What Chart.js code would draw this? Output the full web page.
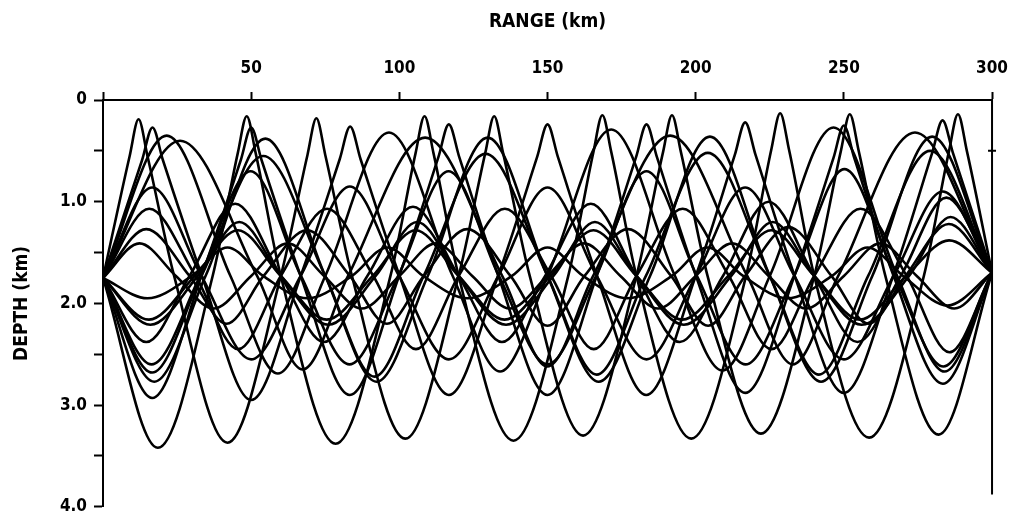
<!DOCTYPE html>
<html>
<head>
<meta charset="utf-8">
<script src="https://cdn.jsdelivr.net/npm/chart.js@4.4.1/dist/chart.umd.min.js"></script>
<style>
  html, body { margin: 0; padding: 0; background: #ffffff; }
  #wrap { width: 1021px; height: 524px; }
</style>
</head>
<body>
<div id="wrap"><canvas id="c" width="1021" height="524"></canvas></div>
<script>
// Ray paths: [range (km), depth (km)] at source-depth crossings,
// turning points, and (for the sharp near-surface tops) the flanks of each top.
const ray01 = [[0,1.75],[9,0.55],[12,0.19],[15,0.55],[24,1.73],[42,3.37],[60,1.73],[69,0.54],[72,0.18],[75,0.54],[84,1.73],[102,3.33],[120,1.73],[129,0.52],[132,0.16],[135,0.52],[144,1.73],[162,3.3],[180,1.73],[189,0.51],[192,0.15],[195,0.51],[204,1.73],[222,3.28],[240,1.73],[249,0.5],[252,0.14],[255,0.5],[264,1.73],[282,3.29],[300,1.70]];
const ray02 = [[0,1.75],[18.5,3.42],[37,1.73],[45.5,0.52],[48.5,0.16],[51.5,0.52],[60,1.73],[78.5,3.38],[97,1.73],[105.5,0.52],[108.5,0.16],[111.5,0.52],[120,1.73],[138.5,3.35],[157,1.73],[165.5,0.51],[168.5,0.15],[171.5,0.51],[180,1.73],[198.5,3.33],[217,1.73],[225.5,0.49],[228.5,0.13],[231.5,0.49],[240,1.73],[258.5,3.32],[277,1.73],[285.5,0.5],[288.5,0.14],[291.5,0.5],[300,1.70]];
const ray03 = [[0,1.75],[13.2,0.59],[16.7,0.27],[20.2,0.59],[33.4,1.73],[50,2.95],[66.7,1.73],[79.9,0.58],[83.4,0.26],[86.9,0.58],[100.1,1.73],[116.7,2.9],[133.3,1.73],[146.5,0.56],[150,0.24],[153.5,0.56],[166.7,1.73],[183.3,2.9],[200,1.73],[213.2,0.54],[216.7,0.22],[220.2,0.54],[233.4,1.73],[250,2.88],[266.6,1.73],[279.8,0.52],[283.3,0.2],[286.8,0.52],[300,1.70]];
const ray04 = [[0,1.75],[16.6,2.93],[33.2,1.73],[46.5,0.59],[50,0.27],[53.5,0.59],[66.7,1.73],[83.3,2.9],[99.9,1.73],[113.2,0.56],[116.7,0.24],[120.2,0.56],[133.4,1.73],[150,2.9],[166.6,1.73],[179.9,0.56],[183.4,0.24],[186.9,0.56],[200.1,1.73],[216.7,2.88],[233.3,1.73],[246.5,0.57],[250,0.25],[253.5,0.57],[266.8,1.73],[283.4,2.79],[300,1.70]];
const ray05 = [[0,1.75],[21.5,0.35],[43,1.73],[59,2.69],[75,1.73],[96.5,0.32],[118,1.73],[134,2.67],[150,1.73],[171.5,0.29],[193,1.73],[209,2.66],[225,1.73],[246.5,0.27],[268,1.73],[284,2.67],[300,1.70]];
const ray06 = [[0,1.75],[26,0.40],[52,1.73],[67.4,2.65],[82.7,1.73],[108.7,0.37],[134.7,1.73],[150,2.62],[165.4,1.73],[191.4,0.35],[217.4,1.73],[232.8,2.6],[248.1,1.73],[274,0.32],[300,1.70]];
const ray07 = [[0,1.75],[16.6,0.86],[33.2,1.73],[50,2.55],[66.7,1.73],[83.3,0.85],[99.9,1.73],[116.7,2.55],[133.4,1.73],[150,0.86],[166.6,1.73],[183.4,2.55],[200.1,1.73],[216.7,0.86],[233.3,1.73],[250,2.55],[266.8,1.73],[283.4,0.9],[300,1.70]];
const ray08 = [[0,1.75],[15.6,1.07],[31.2,1.73],[45.6,2.45],[60,1.73],[75.6,1.07],[91.2,1.73],[105.6,2.45],[120,1.73],[135.6,1.07],[151.2,1.73],[165.6,2.45],[180,1.73],[195.6,1.07],[211.2,1.73],[225.6,2.45],[240,1.73],[255.6,1.07],[271.2,1.73],[285.6,2.48],[300,1.70]];
const ray09 = [[0,1.75],[14.6,1.27],[29.2,1.73],[41.7,2.2],[54.2,1.73],[68.8,1.28],[83.3,1.73],[95.8,2.2],[108.3,1.73],[122.9,1.27],[137.5,1.73],[150,2.22],[162.5,1.73],[177.1,1.27],[191.7,1.73],[204.2,2.22],[216.7,1.73],[231.3,1.25],[245.8,1.73],[258.3,2.2],[270.8,1.73],[285.4,1.22],[300,1.70]];
const ray10 = [[0,1.75],[12.3,1.41],[24.6,1.73],[37.3,2.05],[50,1.73],[62.3,1.41],[74.6,1.73],[87.3,2.05],[100,1.73],[112.3,1.41],[124.6,1.73],[137.3,2.05],[150,1.73],[162.3,1.41],[174.6,1.73],[187.3,2.05],[200,1.73],[212.3,1.41],[224.6,1.73],[237.3,2.05],[250,1.73],[262.3,1.41],[274.6,1.73],[287.3,2.05],[300,1.70]];
const ray11 = [[0,1.75],[15,1.95],[30,1.73],[42,1.45],[54,1.73],[69,1.95],[84,1.73],[96,1.45],[108,1.73],[123,1.95],[138,1.73],[150,1.45],[162,1.73],[177,1.95],[192,1.73],[204,1.45],[216,1.73],[231,1.95],[246,1.73],[258,1.45],[270,1.73],[285,2.02],[300,1.70]];
const ray12 = [[0,1.75],[15.5,2.16],[31,1.73],[45.5,1.28],[60,1.73],[75.5,2.16],[91,1.73],[105.5,1.28],[120,1.73],[135.5,2.16],[151,1.73],[165.5,1.28],[180,1.73],[195.5,2.16],[211,1.73],[225.5,1.28],[240,1.73],[255.5,2.16],[271,1.73],[285.5,1.38],[300,1.70]];
const ray13 = [[0,1.75],[16,2.21],[32,1.73],[46,1.2],[60,1.73],[76,2.21],[92,1.73],[106,1.2],[120,1.73],[136,2.21],[152,1.73],[166,1.2],[180,1.73],[196,2.21],[212,1.73],[226,1.2],[240,1.73],[256,2.21],[272,1.73],[286,1.15],[300,1.70]];
const ray14 = [[0,1.75],[14.6,2.38],[29.2,1.73],[44.6,1.02],[60,1.73],[74.6,2.38],[89.2,1.73],[104.6,1.05],[120,1.73],[134.6,2.38],[149.2,1.73],[164.6,1.02],[180,1.73],[194.6,2.38],[209.2,1.73],[224.6,1.0],[240,1.73],[254.6,2.38],[269.2,1.73],[284.6,0.96],[300,1.70]];
const ray15 = [[0,1.75],[16.4,2.6],[32.8,1.73],[49.8,0.7],[66.8,1.73],[83.2,2.6],[99.6,1.73],[116.6,0.7],[133.6,1.73],[150,2.6],[166.4,1.73],[183.4,0.7],[200.4,1.73],[216.8,2.6],[233.2,1.73],[250.2,0.68],[267.2,1.73],[283.6,2.62],[300,1.70]];
const ray16 = [[0,1.75],[16.6,2.68],[33.2,1.73],[54.1,0.55],[75,1.73],[91.6,2.72],[108.2,1.73],[129.1,0.53],[150,1.73],[166.6,2.7],[183.2,1.73],[204.1,0.52],[225,1.73],[241.6,2.7],[258.2,1.73],[279.1,0.5],[300,1.70]];
const ray17 = [[0,1.75],[17.3,2.77],[34.6,1.73],[54.8,0.38],[75,1.73],[92.3,2.77],[109.6,1.73],[129.8,0.37],[150,1.73],[167.3,2.77],[184.6,1.73],[204.8,0.36],[225,1.73],[242.3,2.77],[259.6,1.73],[279.8,0.36],[300,1.70]];

const rays = [ray01,ray02,ray03,ray04,ray05,ray06,ray07,ray08,ray09,ray10,ray11,ray12,ray13,ray14,ray15,ray16,ray17];

// Axes
const rangeMin = 0, rangeMax = 300, rangeStep = 50;
const depthMin = 0, depthMax = 4, depthStep = 0.5;
const depthLabels = { 0: '0', 1: '1.0', 2: '2.0', 3: '3.0', 4: '4.0' };
const frameRange = 300;      // right-hand frame line
const frameBottom = 3.88;    // where it stops

const FONT = "'DejaVu Sans Condensed','DejaVu Sans',sans-serif";

const framePlugin = {
  id: 'frame',
  afterDatasetsDraw(chart) {
    const { ctx, scales: { x, y } } = chart;
    const px = x.getPixelForValue(frameRange);
    ctx.save();
    ctx.strokeStyle = '#000';
    ctx.lineWidth = 2;
    ctx.beginPath();
    ctx.moveTo(px, y.getPixelForValue(0));
    ctx.lineTo(px, y.getPixelForValue(frameBottom));
    ctx.moveTo(px - 4, y.getPixelForValue(0.5));
    ctx.lineTo(px + 4, y.getPixelForValue(0.5));
    ctx.stroke();
    ctx.restore();
  }
};

new Chart(document.getElementById('c'), {
  type: 'scatter',
  data: {
    datasets: rays.map((r, i) => ({
      label: 'ray ' + (i + 1),
      data: r.map(([x, y]) => ({ x, y })),
      showLine: true,
      borderColor: '#000',
      borderWidth: 2.6,
      pointRadius: 0,
      pointHoverRadius: 0,
      fill: false,
      cubicInterpolationMode: 'monotone'
    }))
  },
  options: {
    responsive: false,
    animation: false,
    events: [],
    layout: { padding: { left: 0, right: 16, top: 0, bottom: 10 } },
    plugins: { legend: { display: false }, tooltip: { enabled: false } },
    scales: {
      x: {
        type: 'linear',
        position: 'top',
        min: rangeMin, max: rangeMax,
        afterFit(s) { s.height = 100; },
        border: { display: true, color: '#000', width: 2 },
        grid: { drawOnChartArea: false, drawTicks: true, tickLength: 8, tickColor: '#000', tickWidth: 2, color: '#000' },
        ticks: {
          stepSize: rangeStep,
          color: '#000',
          padding: 13,
          maxRotation: 0,
          font: { family: FONT, size: 17, weight: 'bold' },
          callback: (v) => (v === 0 ? '' : String(v))
        },
        title: {
          display: true,
          text: 'RANGE (km)',
          color: '#000',
          font: { family: FONT, size: 19, weight: 'bold' },
          padding: { top: 11, bottom: 0 }
        }
      },
      y: {
        type: 'linear',
        position: 'left',
        reverse: true,
        min: depthMin, max: depthMax,
        afterFit(s) { s.width = 103; },
        border: { display: true, color: '#000', width: 2 },
        grid: { drawOnChartArea: false, drawTicks: true, tickLength: 9, tickColor: '#000', tickWidth: 2, color: '#000' },
        ticks: {
          stepSize: depthStep,
          color: '#000',
          padding: 7,
          font: { family: FONT, size: 17, weight: 'bold' },
          callback: (v) => (depthLabels[v] !== undefined ? depthLabels[v] : '')
        },
        title: {
          display: true,
          text: 'DEPTH (km)',
          color: '#000',
          font: { family: FONT, size: 19, weight: 'bold' },
          padding: { top: 11, bottom: 0 }
        }
      }
    }
  },
  plugins: [framePlugin]
});
</script>
</body>
</html>
